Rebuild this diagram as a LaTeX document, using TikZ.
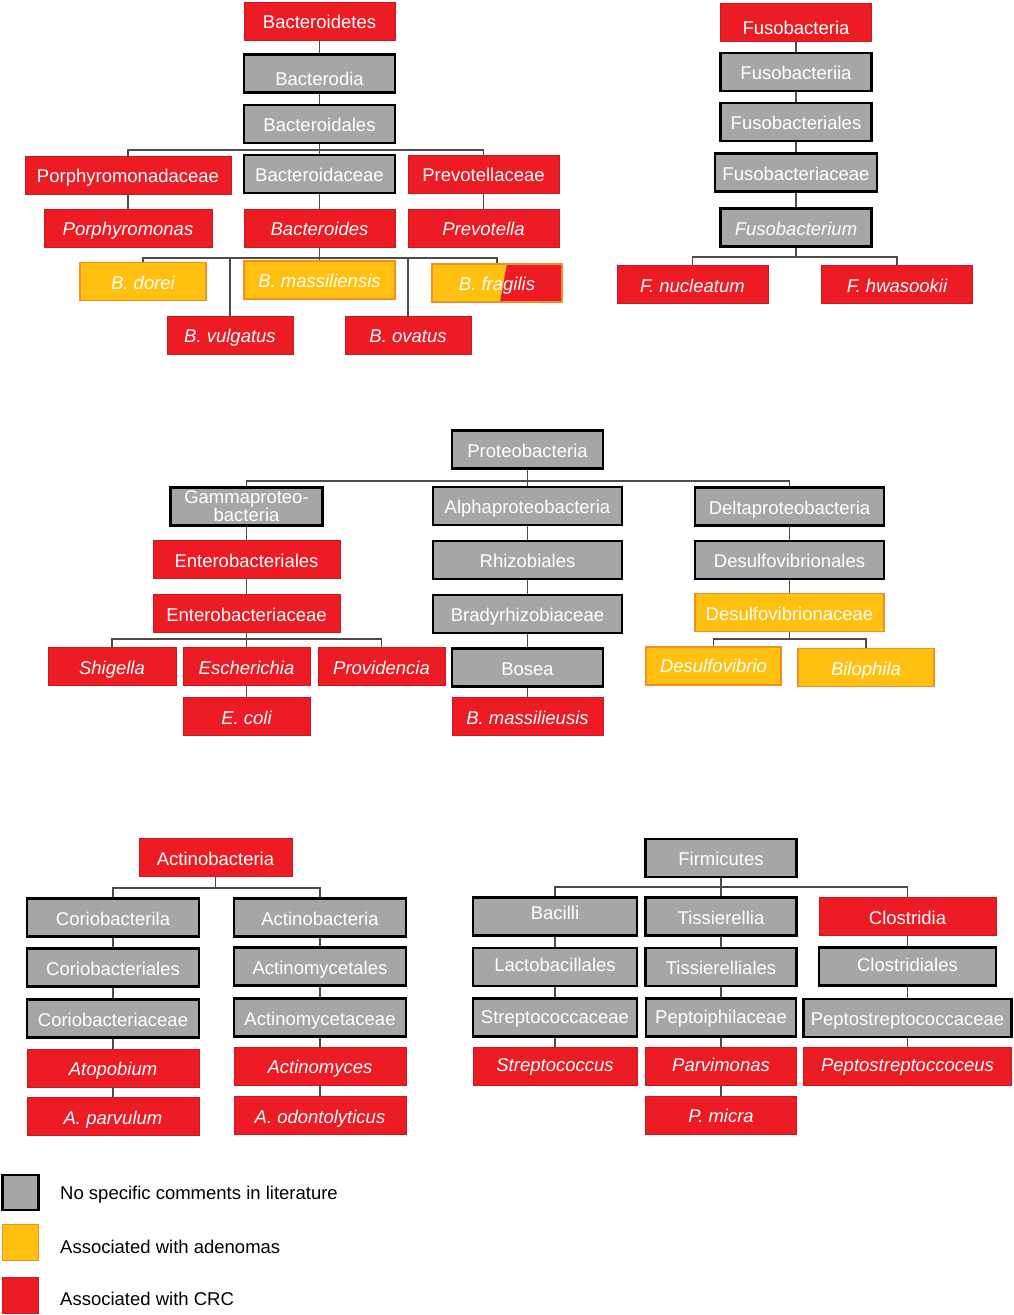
\documentclass[tikz,border=0pt]{standalone}
\usepackage{fontspec}
\setmainfont{Liberation Sans}
\definecolor{crcred}{RGB}{237,28,36}
\definecolor{adenoyellow}{RGB}{255,192,16}
\definecolor{adenoedge}{RGB}{245,140,40}
\definecolor{nsgrey}{RGB}{166,166,166}
\tikzset{
  taxon/.style={rectangle, minimum width=151pt, minimum height=38pt, inner sep=0pt, text=white,
    text height=15pt, text depth=0pt, font=\fontsize{18.5}{19}\selectfont},
  nsc/.style={taxon, fill=nsgrey, draw=black, line width=2.2pt},
  crc/.style={taxon, fill=crcred, draw=crcred!85!black, line width=0.8pt},
  adeno/.style={taxon, fill=adenoyellow, draw=adenoedge, line width=1.5pt},
  genus/.style={font=\fontsize{18.5}{19}\selectfont\itshape},
  link/.style={draw=black!70, line width=1.3pt},
  legendtxt/.style={anchor=west, inner sep=0pt, font=\fontsize{18.5}{19}\selectfont},
}
\begin{document}
\begin{tikzpicture}[x=1pt,y=-1pt]
	\useasboundingbox (0,0) rectangle (1014,1315);
	%Bacteroidetes
	\node[crc] (bacteroidetes) at (319.5,21) {Bacteroidetes};
	\node[nsc, text height=24pt] (bacterodia) at (319.5,73.5) {Bacterodia};
	\node[nsc] (bacteroidales) at (319.5,124) {Bacteroidales};
	\node[crc, minimum width=206pt] (porphyromonadaceae) at (128,175) {Porphyromonadaceae};
	\node[nsc] (bacteroidaceae) at (319.5,174) {Bacteroidaceae};
	\node[crc] (prevotellaceae) at (483.5,174) {Prevotellaceae};
	\node[crc, genus, minimum width=168pt] (porphyromonas) at (128,228) {Porphyromonas};
	\node[crc, genus] (bacteroides) at (319.5,228) {Bacteroides};
	\node[crc, genus] (prevotella) at (483.5,228) {Prevotella};
	\node[adeno, genus, minimum width=126pt] (bdorei) at (143,281.5) {B. dorei};
	\node[adeno, genus] (bmassiliensis) at (319.5,280) {B. massiliensis};
	\node[adeno, genus, minimum width=130pt, path picture={
		\fill[crcred] ([xshift=75pt]path picture bounding box.north west) -- (path picture bounding box.north east)
		-- (path picture bounding box.south east) -- ([xshift=68pt]path picture bounding box.south west) -- cycle;}] (bfragilis) at (497,283) {B. fragilis};
	\node[crc, genus, minimum width=126pt] (bvulgatus) at (230,335) {B. vulgatus};
	\node[crc, genus, minimum width=126pt] (bovatus) at (408,335) {B. ovatus};
	\coordinate (jbacteroidales) at (319.5,150);
	\coordinate (jbacteroides) at (319.5,258);
	\draw[link] (bacteroidetes) -- (bacterodia) -- (bacteroidales) -- (bacteroidaceae) -- (bacteroides) -- (bmassiliensis);
	\draw[link] (porphyromonadaceae.north) |- (jbacteroidales) -| (prevotellaceae.north);
	\draw[link] (porphyromonadaceae) -- (porphyromonas);
	\draw[link] (prevotellaceae) -- (prevotella);
	\draw[link] (bdorei.north) |- (jbacteroides) -| (bfragilis.north);
	\draw[link] (bvulgatus.north) -- (bvulgatus.north |- jbacteroides);
	\draw[link] (bovatus.north) -- (bovatus.north |- jbacteroides);
	%Fusobacteria
	\node[crc, text height=23pt] (fusobacteria) at (796,22.5) {Fusobacteria};
	\node[nsc] (fusobacteriia) at (796,72) {Fusobacteriia};
	\node[nsc] (fusobacteriales) at (796,122) {Fusobacteriales};
	\node[nsc, minimum width=162pt] (fusobacteriaceae) at (796,172.5) {Fusobacteriaceae};
	\node[nsc, genus] (fusobacterium) at (796,227.5) {Fusobacterium};
	\node[crc, genus] (fnucleatum) at (692.5,284.5) {F. nucleatum};
	\node[crc, genus] (fhwasookii) at (897,284.5) {F. hwasookii};
	\coordinate (jfusobacterium) at (796,257);
	\draw[link] (fusobacteria) -- (fusobacteriia) -- (fusobacteriales) -- (fusobacteriaceae) -- (fusobacterium);
	\draw[link] (fusobacterium.south) -- (jfusobacterium);
	\draw[link] (fnucleatum.north) |- (jfusobacterium) -| (fhwasookii.north);
	%Proteobacteria
	\node[nsc] (proteobacteria) at (527.5,449.5) {Proteobacteria};
	\node[nsc, minimum width=152pt, align=center, text height=, text depth=, font=\fontsize{18.5}{17}\selectfont] (gammaproteo) at (246.5,506.5) {Gammaproteo-\\bacteria};
	\node[nsc, minimum width=189pt] (alphaproteo) at (527.5,506) {Alphaproteobacteria};
	\node[nsc, minimum width=189pt] (deltaproteo) at (789.5,506.5) {Deltaproteobacteria};
	\node[crc, minimum width=187pt] (enterobacteriales) at (246.5,559.5) {Enterobacteriales};
	\node[nsc, minimum width=189pt] (rhizobiales) at (527.5,560) {Rhizobiales};
	\node[nsc, minimum width=189pt] (desulfovibrionales) at (789.5,560) {Desulfovibrionales};
	\node[crc, minimum width=187pt] (enterobacteriaceae) at (246.5,613.5) {Enterobacteriaceae};
	\node[nsc, minimum width=189pt] (bradyrhizobiaceae) at (527.5,614) {Bradyrhizobiaceae};
	\node[adeno, minimum width=189pt] (desulfovibrionaceae) at (789.5,612.5) {Desulfovibrionaceae};
	\node[crc, genus, minimum width=128pt] (shigella) at (112,666.5) {Shigella};
	\node[crc, genus, minimum width=127pt] (escherichia) at (246.5,666.5) {Escherichia};
	\node[crc, genus, minimum width=127pt] (providencia) at (381.5,666.5) {Providencia};
	\node[nsc] (bosea) at (527.5,667.5) {Bosea};
	\node[adeno, genus, minimum width=135pt, text height=13pt] (desulfovibrio) at (713.5,666) {Desulfovibrio};
	\node[adeno, genus, minimum width=136pt] (bilophila) at (866,667.5) {Bilophila};
	\node[crc, genus, minimum width=127pt] (ecoli) at (246.5,716.5) {E. coli};
	\node[crc, genus] (bmassilieusis) at (527.5,716.5) {B. massilieusis};
	\coordinate (jproteobacteria) at (527.5,481);
	\coordinate (jenterobacteriaceae) at (246.5,639);
	\coordinate (jdesulfovibrionaceae) at (789.5,639);
	\draw[link] (proteobacteria) -- (alphaproteo) -- (rhizobiales) -- (bradyrhizobiaceae) -- (bosea) -- (bmassilieusis);
	\draw[link] (gammaproteo.north) |- (jproteobacteria) -| (deltaproteo.north);
	\draw[link] (gammaproteo) -- (enterobacteriales) -- (enterobacteriaceae) -- (escherichia) -- (ecoli);
	\draw[link] (shigella.north) |- (jenterobacteriaceae) -| (providencia.north);
	\draw[link] (deltaproteo) -- (desulfovibrionales) -- (desulfovibrionaceae);
	\draw[link] (desulfovibrionaceae.south) -- (jdesulfovibrionaceae);
	\draw[link] (desulfovibrio.north) |- (jdesulfovibrionaceae) -| (bilophila.north);
	%Actinobacteria
	\node[crc, minimum width=153pt] (actinobacteria) at (215.5,857.5) {Actinobacteria};
	\node[nsc, minimum width=172pt] (coriobacterila) at (113,917.5) {Coriobacterila};
	\node[nsc, minimum width=172pt] (actinobacteriaii) at (320,917.5) {Actinobacteria};
	\node[nsc, minimum width=172pt] (coriobacteriales) at (113,967.5) {Coriobacteriales};
	\node[nsc, minimum width=172pt] (actinomycetales) at (320,966.5) {Actinomycetales};
	\node[nsc, minimum width=172pt] (coriobacteriaceae) at (113,1018.5) {Coriobacteriaceae};
	\node[nsc, minimum width=172pt] (actinomycetaceae) at (320,1017.5) {Actinomycetaceae};
	\node[crc, genus, minimum width=172pt] (atopobium) at (113,1068) {Atopobium};
	\node[crc, genus, minimum width=172pt] (actinomyces) at (320,1066) {Actinomyces};
	\node[crc, genus, minimum width=172pt] (aparvulum) at (113,1116.5) {A. parvulum};
	\node[crc, genus, minimum width=172pt] (aodontolyticus) at (320,1115.5) {A. odontolyticus};
	\coordinate (jactinobacteria) at (215.5,888);
	\draw[link] (actinobacteria.south) -- (jactinobacteria);
	\draw[link] (coriobacterila.north) |- (jactinobacteria) -| (actinobacteriaii.north);
	\draw[link] (coriobacterila) -- (coriobacteriales) -- (coriobacteriaceae) -- (atopobium) -- (aparvulum);
	\draw[link] (actinobacteriaii) -- (actinomycetales) -- (actinomycetaceae) -- (actinomyces) -- (aodontolyticus);
	%Firmicutes
	\node[nsc] (firmicutes) at (721,858) {Firmicutes};
	\node[nsc, minimum width=164pt, text height=6pt] (bacilli) at (555,916.5) {Bacilli};
	\node[nsc] (tissierellia) at (721,916.5) {Tissierellia};
	\node[crc, minimum width=177pt] (clostridia) at (907.5,916.5) {Clostridia};
	\node[nsc, minimum width=164pt, text height=9pt] (lactobacillales) at (555,967) {Lactobacillales};
	\node[nsc] (tissierelliales) at (721,967) {Tissierelliales};
	\node[nsc, minimum width=177pt, text height=9pt] (clostridiales) at (907.5,966.5) {Clostridiales};
	\node[nsc, minimum width=164pt, text height=11pt] (streptococcaceae) at (555,1017.5) {Streptococcaceae};
	\node[nsc, minimum width=150pt, text height=11pt] (peptoiphilaceae) at (721,1017.5) {Peptoiphilaceae};
	\node[nsc, minimum width=208pt] (peptostreptococcaceae) at (907.5,1018) {Peptostreptococcaceae};
	\node[crc, genus, minimum width=164pt, text height=11pt] (streptococcus) at (555,1066) {Streptococcus};
	\node[crc, genus, text height=11pt] (parvimonas) at (721,1066) {Parvimonas};
	\node[crc, genus, minimum width=208pt, text height=11pt] (peptostreptoccoceus) at (907.5,1066) {Peptostreptoccoceus};
	\node[crc, genus] (pmicra) at (721,1115) {P. micra};
	\coordinate (jfirmicutes) at (721,887);
	\draw[link] (bacilli.north) |- (jfirmicutes) -| (clostridia.north);
	\draw[link] (firmicutes) -- (tissierellia) -- (tissierelliales) -- (peptoiphilaceae) -- (parvimonas) -- (pmicra);
	\draw[link] (bacilli) -- (lactobacillales) -- (streptococcaceae) -- (streptococcus);
	\draw[link] (clostridia) -- (clostridiales) -- (peptostreptococcaceae) -- (peptostreptoccoceus);
	%legende
	\node[nsc, minimum width=36pt, minimum height=35pt] (keygrey) at (20.5,1192.5) {};
	\node[adeno, minimum width=36pt, minimum height=36pt] (keyyellow) at (20.5,1242.5) {};
	\node[crc, minimum width=36pt, minimum height=36pt] (keyred) at (20.5,1295) {};
	\node[legendtxt] (txtgrey) at (60,1195) {No specific comments in literature};
	\node[legendtxt] (txtyellow) at (60,1247) {Associated with adenomas};
	\node[legendtxt] (txtred) at (60,1299) {Associated with CRC};
\end{tikzpicture}
\end{document}
